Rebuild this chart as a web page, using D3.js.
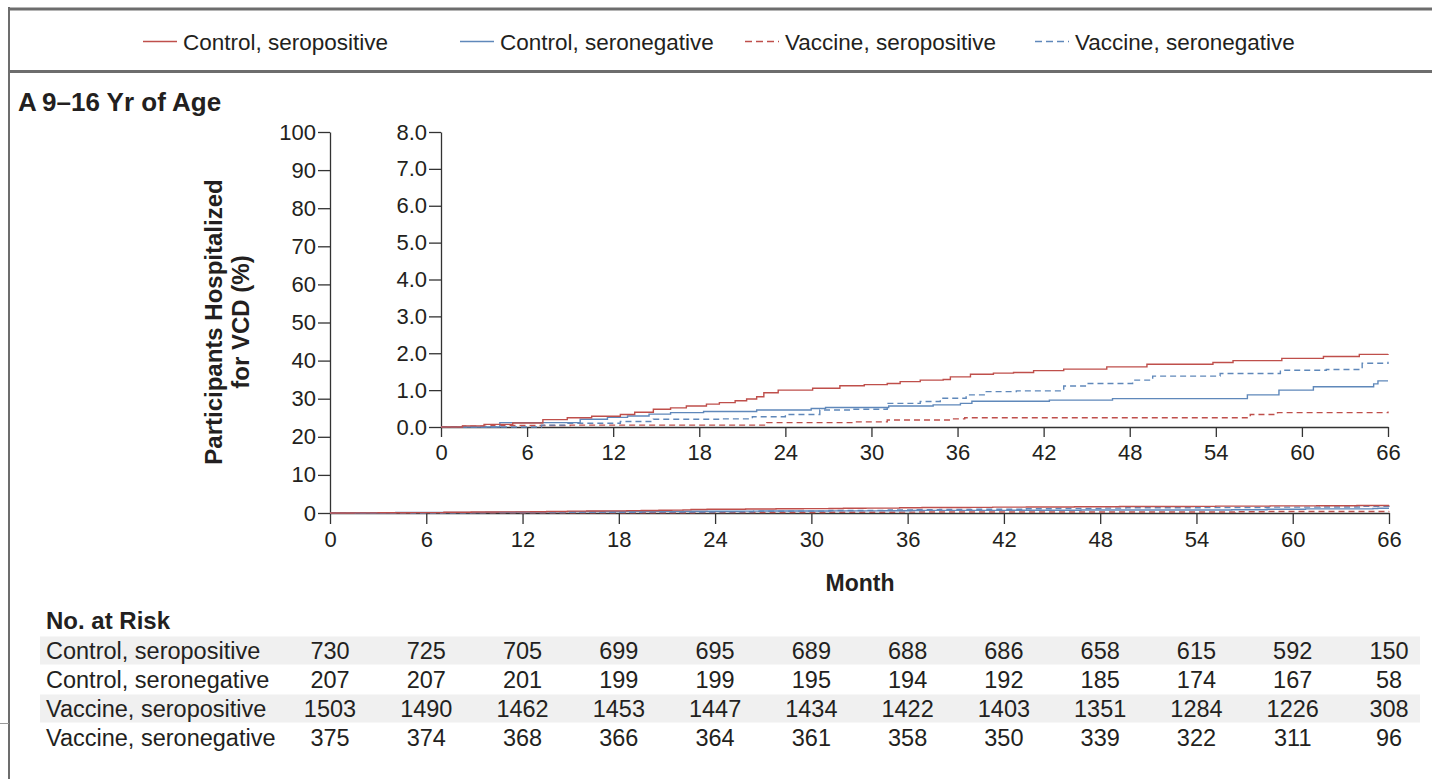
<!DOCTYPE html>
<html><head><meta charset="utf-8">
<script src="https://cdn.jsdelivr.net/npm/d3@7"></script>
<style>
body{margin:0;background:#fff;}
svg{display:block;}
text{font-family:"Liberation Sans Narrow","Liberation Sans",Arial,sans-serif;fill:#231f20;}
</style></head><body>
<svg id="chart" width="1432" height="779"></svg>
<script>
// ---------- data ----------
const seriesNames = ["Control, seropositive", "Control, seronegative", "Vaccine, seropositive", "Vaccine, seronegative"];
const seriesColors = ["#bf4f4b", "#5f88ba", "#bf4f4b", "#5f88ba"];
const seriesDash = [null, null, "6,4", "6,4"];

const ctrlPosMonths = [0, 1.5, 3, 5, 7.1, 8.8, 10.5, 12.5, 13.5, 14.8, 16, 17.1, 18.5, 19.4, 20.5, 21.3, 22, 22.5, 23.5, 25.9, 27.8, 29.5, 31.1, 32, 33.4, 35, 35.5, 36.9, 38.5, 39.9, 41.3, 43.4, 46.4, 49.2, 53.8, 55.2, 58.6, 61.5, 64, 66];
const ctrlPosPct    = [0, 0.03, 0.07, 0.11, 0.2, 0.25, 0.29, 0.34, 0.4, 0.48, 0.52, 0.57, 0.62, 0.66, 0.71, 0.76, 0.82, 0.93, 1.0, 1.05, 1.12, 1.15, 1.18, 1.23, 1.27, 1.29, 1.36, 1.43, 1.46, 1.48, 1.53, 1.57, 1.63, 1.70, 1.75, 1.80, 1.86, 1.91, 1.97, 1.98];

const ctrlNegMonths = [0, 4.1, 9.7, 11.6, 13, 14.5, 16, 18.3, 22, 25.8, 26.8, 31.2, 34.3, 36.2, 37, 42.4, 46.8, 56.2, 58.4, 60.8, 65, 65.3, 66];
const ctrlNegPct    = [0, 0.12, 0.21, 0.26, 0.3, 0.35, 0.39, 0.42, 0.46, 0.5, 0.53, 0.57, 0.6, 0.64, 0.7, 0.73, 0.77, 0.87, 1.0, 1.09, 1.17, 1.25, 1.25];

const vacPosMonths = [0, 1.5, 3.5, 9, 22.7, 28.7, 31.1, 35.5, 36.5, 56.4, 58.3, 66];
const vacPosPct    = [0, 0.02, 0.04, 0.05, 0.12, 0.14, 0.19, 0.22, 0.25, 0.34, 0.39, 0.42];

const vacNegMonths = [0, 7, 8.8, 12.5, 14.8, 19.4, 21.7, 24, 26.4, 28.7, 31.1, 33.4, 34.8, 36.6, 38, 40.1, 43.4, 45, 48.2, 49.6, 54.3, 58.5, 61.7, 64.2, 66];
const vacNegPct    = [0, 0.05, 0.1, 0.15, 0.21, 0.22, 0.28, 0.34, 0.46, 0.48, 0.64, 0.69, 0.78, 0.87, 0.96, 0.98, 1.11, 1.18, 1.27, 1.38, 1.45, 1.54, 1.56, 1.73, 1.77];

const monthTicks = [0, 6, 12, 18, 24, 30, 36, 42, 48, 54, 60, 66];
const mainYTicks = [0, 10, 20, 30, 40, 50, 60, 70, 80, 90, 100];
const insetYTicks = [0, 1, 2, 3, 4, 5, 6, 7, 8];

const riskCtrlPos = [730, 725, 705, 699, 695, 689, 688, 686, 658, 615, 592, 150];
const riskCtrlNeg = [207, 207, 201, 199, 199, 195, 194, 192, 185, 174, 167, 58];
const riskVacPos  = [1503, 1490, 1462, 1453, 1447, 1434, 1422, 1403, 1351, 1284, 1226, 308];
const riskVacNeg  = [375, 374, 368, 366, 364, 361, 358, 350, 339, 322, 311, 96];

const panelTitle = "9\u201316 Yr of Age";
const panelLetter = "A";
const yTitle1 = "Participants Hospitalized";
const yTitle2 = "for VCD (%)";
const xTitle = "Month";
const riskTitle = "No. at Risk";

// ---------- build ----------
const svg = d3.select("#chart");
const series = [
  {months: ctrlPosMonths, pct: ctrlPosPct},
  {months: ctrlNegMonths, pct: ctrlNegPct},
  {months: vacPosMonths, pct: vacPosPct},
  {months: vacNegMonths, pct: vacNegPct}
].map((s, i) => ({name: seriesNames[i], color: seriesColors[i], dash: seriesDash[i],
  pts: s.months.map((m, j) => [m, s.pct[j]])}));
const risk = [riskCtrlPos, riskCtrlNeg, riskVacPos, riskVacNeg];

// frame
const frameCol = "#6d6d6d";
svg.append("line").attr("x1", 9).attr("x2", 9).attr("y1", 7).attr("y2", 779).attr("stroke", frameCol).attr("stroke-width", 2);
svg.append("line").attr("x1", 8).attr("x2", 1432).attr("y1", 9).attr("y2", 9).attr("stroke", frameCol).attr("stroke-width", 3);
svg.append("line").attr("x1", 8).attr("x2", 1432).attr("y1", 71.5).attr("y2", 71.5).attr("stroke", frameCol).attr("stroke-width", 3);
svg.append("line").attr("x1", 0).attr("x2", 9).attr("y1", 723.5).attr("y2", 723.5).attr("stroke", "#999").attr("stroke-width", 1);

// legend
const legendX = [143, 460, 745, 1035];
const lg = svg.append("g");
series.forEach((s, i) => {
  lg.append("line").attr("x1", legendX[i]).attr("x2", legendX[i] + 34).attr("y1", 41.5).attr("y2", 41.5)
    .attr("stroke", s.color).attr("stroke-width", 1.3).attr("stroke-dasharray", s.dash ? "7,4" : null);
  lg.append("text").attr("x", legendX[i] + 40).attr("y", 42).attr("dy", "0.35em")
    .style("font-size", "22.5px").text(s.name);
});

// title
svg.append("text").attr("x", 18).attr("y", 111).style("font-size", "26px").style("font-weight", "bold").text(panelLetter);
svg.append("text").attr("x", 42).attr("y", 111).style("font-size", "26px").style("font-weight", "bold").text(panelTitle);

// scales
const xMain = d3.scaleLinear().domain([0, 66]).range([330, 1389]);
const yMain = d3.scaleLinear().domain([0, 100]).range([513, 132]);
const xIn = d3.scaleLinear().domain([0, 66]).range([441, 1388]);
const yIn = d3.scaleLinear().domain([0, 8]).range([427, 132]);

function styleAxis(g, fs) {
  g.select(".domain").attr("stroke", "#333").attr("stroke-width", 1.3);
  g.selectAll(".tick line").attr("stroke", "#333").attr("stroke-width", 1.3);
  g.selectAll(".tick text").style("font-size", fs).style("font-family", '"Liberation Sans Narrow","Liberation Sans",Arial,sans-serif').attr("fill", "#231f20");
}

// main axes
const gMY = svg.append("g").attr("transform", "translate(330,0)")
  .call(d3.axisLeft(yMain).tickValues(mainYTicks).tickSize(12).tickSizeOuter(0).tickPadding(2));
styleAxis(gMY, "22px");
const gMX = svg.append("g").attr("transform", "translate(0,513)")
  .call(d3.axisBottom(xMain).tickValues(monthTicks).tickSize(11).tickSizeOuter(0).tickPadding(7));
styleAxis(gMX, "22px");

// inset axes
const gIY = svg.append("g").attr("transform", "translate(441,0)")
  .call(d3.axisLeft(yIn).tickValues(insetYTicks).tickFormat(d3.format(".1f")).tickSize(12).tickSizeOuter(0).tickPadding(2));
styleAxis(gIY, "22px");
const gIX = svg.append("g").attr("transform", "translate(0,427)")
  .call(d3.axisBottom(xIn).tickValues(monthTicks).tickSize(10).tickSizeOuter(0).tickPadding(7));
styleAxis(gIX, "22px");

// curves
function drawCurves(xs, ys) {
  const line = d3.line().x(d => xs(d[0])).y(d => ys(d[1])).curve(d3.curveStepAfter);
  const order = [2, 3, 1, 0];
  order.forEach(i => {
    const s = series[i];
    svg.append("path").attr("d", line(s.pts)).attr("fill", "none")
      .attr("stroke", s.color).attr("stroke-width", 1.4)
      .attr("stroke-dasharray", s.dash);
  });
}
drawCurves(xMain, yMain);
drawCurves(xIn, yIn);

// axis titles
svg.append("text").attr("transform", "translate(222,322) rotate(-90)").attr("text-anchor", "middle")
  .style("font-size", "24px").style("font-weight", "bold").text(yTitle1);
svg.append("text").attr("transform", "translate(249,322) rotate(-90)").attr("text-anchor", "middle")
  .style("font-size", "24px").style("font-weight", "bold").text(yTitle2);
svg.append("text").attr("x", 860).attr("y", 583).attr("dy", "0.35em").attr("text-anchor", "middle")
  .style("font-size", "23px").style("font-weight", "bold").text(xTitle);

// risk table
svg.append("text").attr("x", 46).attr("y", 621).attr("dy", "0.35em")
  .style("font-size", "24px").style("font-weight", "bold").text(riskTitle);
const rowY = d3.scaleLinear().domain([0, 1]).range([651, 680]);
risk.forEach((row, i) => {
  if (i % 2 === 0) {
    svg.append("rect").attr("x", 40).attr("y", rowY(i) - 14.5).attr("width", 1380).attr("height", 28).attr("fill", "#f0f0f0");
  }
});
risk.forEach((row, i) => {
  svg.append("text").attr("x", 46).attr("y", rowY(i)).attr("dy", "0.35em")
    .style("font-size", "23.5px").text(seriesNames[i]);
  row.forEach((v, j) => {
    svg.append("text").attr("x", xMain(monthTicks[j])).attr("y", rowY(i)).attr("dy", "0.35em")
      .attr("text-anchor", "middle").style("font-size", "23.5px").text(v);
  });
});
</script>
</body></html>
